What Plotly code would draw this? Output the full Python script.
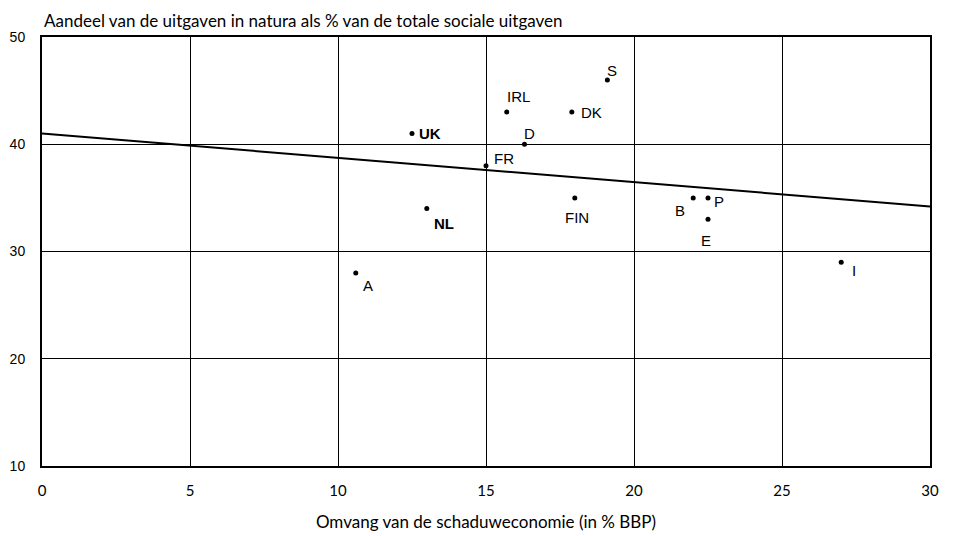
import plotly.graph_objects as go

# Data
countries = ["A", "UK", "NL", "FR", "IRL", "D", "DK", "S", "FIN", "B", "P", "E", "I"]
shadow_economy = [10.6, 12.5, 13.0, 15.0, 15.7, 16.3, 17.9, 19.1, 18.0, 22.0, 22.5, 22.5, 27.0]
in_kind_share = [28.0, 41.0, 34.0, 38.0, 43.0, 40.0, 43.0, 46.0, 35.0, 35.0, 35.0, 33.0, 29.0]
trend_x = [0, 30]
trend_y = [41.0, 34.2]
x_ticks = [0, 5, 10, 15, 20, 25, 30]
y_ticks = [10, 20, 30, 40, 50]

# Label placement (pixel offsets, anchors) - styling only
label_style = {
    "A":   dict(dx=5, dy=-13, anchor="left", bold=False),
    "UK":  dict(dx=5, dy=0, anchor="left", bold=True),
    "NL":  dict(dx=5, dy=-15, anchor="left", bold=True),
    "FR":  dict(dx=6, dy=7, anchor="left", bold=False),
    "IRL": dict(dx=12, dy=16, anchor="center", bold=False),
    "D":   dict(dx=5, dy=11, anchor="center", bold=False),
    "DK":  dict(dx=7, dy=0, anchor="left", bold=False),
    "S":   dict(dx=5, dy=9, anchor="center", bold=False),
    "FIN": dict(dx=2, dy=-20, anchor="center", bold=False),
    "B":   dict(dx=-13, dy=-13, anchor="center", bold=False),
    "P":   dict(dx=4, dy=-4, anchor="left", bold=False),
    "E":   dict(dx=-2, dy=-21, anchor="center", bold=False),
    "I":   dict(dx=13, dy=-8, anchor="center", bold=False),
}

fig = go.Figure()

fig.add_trace(go.Scatter(
    x=trend_x, y=trend_y, mode="lines",
    line=dict(color="black", width=2), hoverinfo="skip", showlegend=False,
))

fig.add_trace(go.Scatter(
    x=shadow_economy, y=in_kind_share, mode="markers",
    marker=dict(color="black", size=5), text=countries, showlegend=False,
))

for c, xv, yv in zip(countries, shadow_economy, in_kind_share):
    s = label_style[c]
    fig.add_annotation(
        x=xv, y=yv, xref="x", yref="y",
        text=f"<b>{c}</b>" if s["bold"] else c,
        showarrow=False, xanchor=s["anchor"], yanchor="middle",
        xshift=s["dx"], yshift=s["dy"],
        font=dict(family="Liberation Sans, Arial, sans-serif", size=15, color="black"),
    )

fig.add_annotation(
    x=0, y=1, xref="paper", yref="paper", xanchor="left", yanchor="bottom",
    yshift=4, showarrow=False,
    text="Aandeel van de uitgaven in natura als % van de totale sociale uitgaven",
    font=dict(family="Lato, sans-serif", size=17, color="black"),
)

fig.update_layout(
    width=953, height=536,
    margin=dict(l=34, r=31, t=29, b=78, autoexpand=False),
    paper_bgcolor="white", plot_bgcolor="white",
    font=dict(family="Liberation Sans, Arial, sans-serif", size=14, color="black"),
    xaxis=dict(
        range=[0, 30], tickvals=x_ticks, ticks="", showgrid=True,
        gridcolor="black", gridwidth=1, zeroline=False,
        showline=True, linecolor="black", linewidth=2, mirror=True,
        tickfont=dict(family="Lato, sans-serif", size=15),
        ticklabelstandoff=10,
        title=dict(text="Omvang van de schaduweconomie (in % BBP)",
                   font=dict(family="Lato, sans-serif", size=17), standoff=18),
    ),
    yaxis=dict(
        range=[10, 50], tickvals=y_ticks, ticks="", showgrid=True,
        gridcolor="black", gridwidth=1, zeroline=False,
        showline=True, linecolor="black", linewidth=2, mirror=True,
        ticklabelstandoff=12,
    ),
)

fig.write_html("out.html")
